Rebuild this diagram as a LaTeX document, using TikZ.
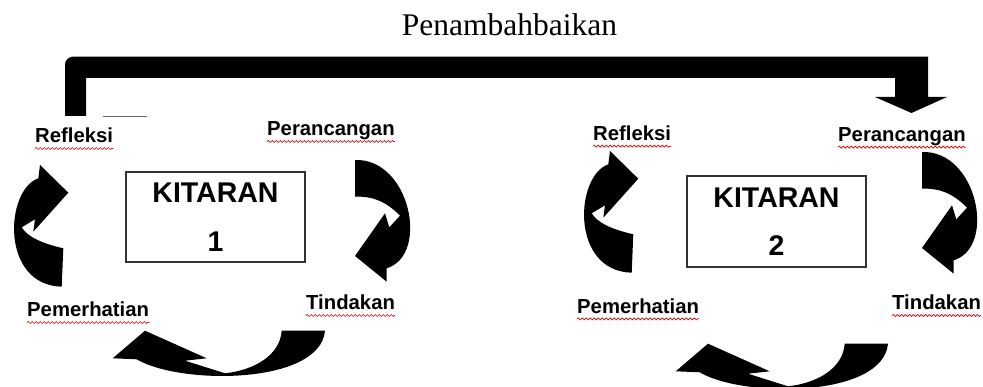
\documentclass[tikz,border=0pt]{standalone}
\usepackage{fontspec}
\setmainfont{Liberation Serif}
\newfontfamily\arialfont{Liberation Sans}
\usetikzlibrary{decorations.pathmorphing}

\tikzset{
	stage/.style={font=\arialfont\bfseries\fontsize{20.3}{24}\selectfont, inner sep=0pt, anchor=base west},
	squiggle/.style={red!85!black, line width=0.7pt, decorate, decoration={snake, amplitude=1pt, segment length=4pt}},
	kitbox/.style={draw=black!80, line width=1.2pt, minimum width=179pt, minimum height=90pt, inner sep=0pt},
	kittext/.style={font=\arialfont\bfseries\fontsize{28.5}{32}\selectfont, inner sep=0pt, anchor=base},
	leftcurl/.pic={
		\fill (63.3,248.3) .. controls (40,243) and (27,236) .. (21.7,227.3) -- (35,219.3) -- (33.3,231.7)
			-- (68.3,192.7) -- (40,165) -- (38.3,178.3) .. controls (5,190) and (0,285) .. (61.7,286.7) -- cycle;
	},
	rightcurl/.pic={
		\fill (355,160) .. controls (410,158) and (430,255) .. (386.7,268.3) -- (386.7,281.7) -- (355,256)
			-- (385,213.3) -- (389.3,227.3) -- (400,215.7) .. controls (385,200) and (370,196) .. (355,196.7) -- cycle;
	},
	bottomcurl/.pic={
		\fill (281.7,330.7) .. controls (280,355) and (255,370) .. (225,373.3) -- (185,360.7) -- (206.7,358.3)
			-- (145,330.7) -- (112.7,358.3) -- (136.7,359.3) .. controls (180,385) and (320,385) .. (325,330.7) -- cycle;
	}
}

\begin{document}
\begin{tikzpicture}[x=1pt, y=-1pt]
	\path[use as bounding box] (0,0) rectangle (983,387);
	\clip (0,0) rectangle (983,387);

	% feedback arrow
	\node[font=\fontsize{31.5}{36}\selectfont, inner sep=0pt, anchor=base] (title) at (509.5,36) {Penambahbaikan};
	\fill (65,116) [rounded corners=8pt] -- (65,56.7) -- (500,56.7) [sharp corners] -- (928,56.7) -- (928,97)
		-- (947,97) -- (911.5,113) -- (875,97) -- (895,97) -- (895,78) -- (86,78) -- (86,116) -- cycle;
	\draw[black!60, line width=0.8pt] (103,116) -- (147,116);

	% kitaran 1
	\node[kitbox] (box1) at (215.5,217) {};
	\node[kittext] (kit1) at ([yshift=-31.3pt]box1.north) {KITARAN};
	\node[kittext] (num1) at ([yshift=-79.7pt]box1.north) {1};
	\node[stage] (refl1) at (35,143) {Refleksi};
	\node[stage] (peran1) at (267,136) {Perancangan};
	\node[stage] (tind1) at (306,310) {Tindakan};
	\node[stage] (pemer1) at (27,317) {Pemerhatian};
	\pic at (0,0) {leftcurl};
	\pic at (0,0) {rightcurl};
	\pic at (0,0) {bottomcurl};

	% kitaran 2
	\node[kitbox, minimum height=91pt] (box2) at (776.5,221.5) {};
	\node[kittext] (kit2) at ([yshift=-32.3pt]box2.north) {KITARAN};
	\node[kittext] (num2) at ([yshift=-80pt]box2.north) {2};
	\node[stage] (refl2) at (593,140.7) {Refleksi};
	\node[stage] (peran2) at (838,141.7) {Perancangan};
	\node[stage] (tind2) at (892,310) {Tindakan};
	\node[stage] (pemer2) at (577,313.3) {Pemerhatian};
	\pic at (570,-14) {leftcurl};
	\pic at (567,-8) {rightcurl};
	\pic at (563,13) {bottomcurl};

	% spelling marks
	\foreach \lbl in {refl1,peran1,tind1,pemer1,refl2,peran2,tind2,pemer2}
		\draw[squiggle] ([yshift=-5.5pt]\lbl.base west) -- ([yshift=-5.5pt]\lbl.base east);
\end{tikzpicture}
\end{document}
